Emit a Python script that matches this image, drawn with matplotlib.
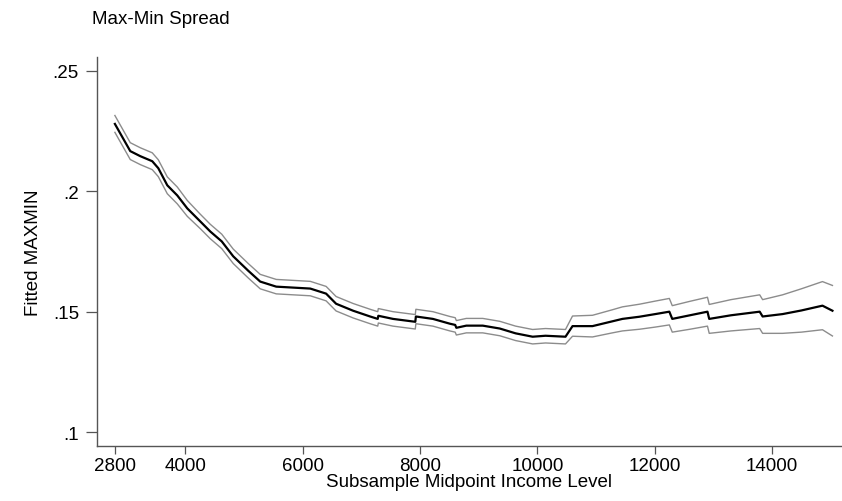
import numpy as np
import matplotlib
matplotlib.use("Agg")
import matplotlib.pyplot as plt

plt.rcParams['font.family'] = ['Liberation Sans', 'DejaVu Sans']

# subsample midpoint income level
income = [2800, 3062, 3233, 3437, 3540, 3693, 3863, 4034, 4255, 4426,
          4621, 4817, 5073, 5277, 5550, 5840, 6130, 6400, 6570, 6860,
          7150, 7280, 7290, 7540, 7920, 7930, 8220, 8510, 8600, 8620,
          8790, 9070, 9360, 9630, 9920, 10140, 10480, 10600, 10940, 11280,
          11450, 11740, 12010, 12250, 12300, 12600, 12900, 12930, 13300, 13790,
          13840, 14180, 14500, 14860, 15030]
# fitted maxmin
fitted = [.2280, .2167, .2146, .2125, .2096, .2025, .1983, .1929, .1875, .1833,
          .1792, .1730, .1670, .1625, .1604, .1600, .1596, .1575, .1533, .1504,
          .1480, .1470, .1483, .1470, .1458, .1480, .1470, .1450, .1445, .1433,
          .1442, .1442, .1430, .1410, .1396, .1400, .1396, .1440, .1440, .1460,
          .1470, .1479, .1490, .1500, .1470, .1485, .1500, .1470, .1485, .1500,
          .1480, .1490, .1505, .1525, .1504]
upper = [.2315, .2202, .2181, .2160, .2131, .2060, .2018, .1962, .1905, .1863,
         .1822, .1760, .1700, .1655, .1634, .1630, .1626, .1605, .1563, .1534,
         .1510, .1500, .1513, .1500, .1488, .1510, .1500, .1480, .1475, .1463,
         .1472, .1472, .1460, .1440, .1426, .1430, .1426, .1482, .1485, .1508,
         .1520, .1531, .1544, .1555, .1525, .1543, .1560, .1530, .1550, .1570,
         .1550, .1570, .1595, .1625, .1609]
lower = [.2245, .2132, .2111, .2090, .2061, .1990, .1948, .1896, .1845, .1803,
         .1762, .1700, .1640, .1595, .1574, .1570, .1566, .1545, .1503, .1474,
         .1450, .1440, .1453, .1440, .1428, .1450, .1440, .1420, .1415, .1403,
         .1412, .1412, .1400, .1380, .1366, .1370, .1366, .1398, .1395, .1412,
         .1420, .1427, .1436, .1445, .1415, .1427, .1440, .1410, .1420, .1430,
         .1410, .1410, .1415, .1425, .1399]

xticks = [2800, 4000, 6000, 8000, 10000, 12000, 14000]
yticks = [.1, .15, .2, .25]
ylabels = ['.1', '.15', '.2', '.25']

fig = plt.figure(figsize=(8.42, 5.02), dpi=100)
ax = fig.add_axes([97/842, 55/502, 745/842, 389/502])

ax.plot(income, upper, color='#8c8c8c', lw=1.0)
ax.plot(income, lower, color='#8c8c8c', lw=1.0)
ax.plot(income, fitted, color='black', lw=1.6)

ax.set_xlim(2495, 15193)
ax.set_ylim(0.0942, 0.2558)
ax.set_xticks(xticks)
ax.set_xticklabels([str(t) for t in xticks])
ax.set_yticks(yticks)
ax.set_yticklabels(ylabels)

for s in ['top', 'right']:
    ax.spines[s].set_visible(False)
for s in ['left', 'bottom']:
    ax.spines[s].set_color('#555555')
    ax.spines[s].set_linewidth(1.0)
ax.tick_params(axis='y', length=8, width=0.9, color='#555555',
               labelsize=13.5, pad=5)
ax.tick_params(axis='x', length=6, width=0.9, color='#555555',
               labelsize=13.5, pad=2)

ax.set_xlabel('Subsample Midpoint Income Level', fontsize=13.5, labelpad=-1)
ax.set_ylabel('Fitted MAXMIN', fontsize=13.5, labelpad=8)
fig.text(92/842, 1 - 19/502, 'Max-Min Spread', fontsize=13.5, va='center', ha='left')

fig.savefig('out.png', dpi=100)
